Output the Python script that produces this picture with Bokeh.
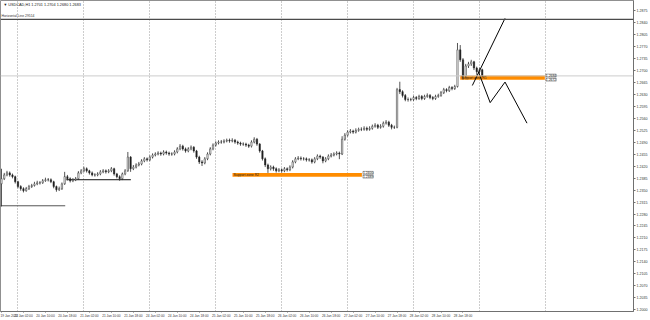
from bokeh.plotting import figure
from bokeh.models import Range1d, FixedTicker, LinearAxis, Label, Span, Grid, NumeralTickFormatter
from bokeh.embed import file_html
from bokeh.resources import INLINE

symbol = "USDCAD,H1"

opens = [
    1.2368, 1.2383, 1.2394, 1.2400, 1.2394, 1.2389, 1.2374, 1.2360, 1.2354, 1.2348,
    1.2354, 1.2360, 1.2363, 1.2368, 1.2371, 1.2371, 1.2377, 1.2380, 1.2380, 1.2374,
    1.2360, 1.2351, 1.2354, 1.2368, 1.2389, 1.2383, 1.2377, 1.2380, 1.2383, 1.2400,
    1.2406, 1.2412, 1.2406, 1.2400, 1.2394, 1.2394, 1.2397, 1.2403, 1.2406, 1.2403,
    1.2406, 1.2412, 1.2397, 1.2389, 1.2383, 1.2397, 1.2406, 1.2446, 1.2412, 1.2417,
    1.2423, 1.2426, 1.2435, 1.2441, 1.2438, 1.2446, 1.2452, 1.2455, 1.2458, 1.2455,
    1.2461, 1.2458, 1.2455, 1.2455, 1.2461, 1.2470, 1.2478, 1.2470, 1.2464, 1.2470,
    1.2475, 1.2464, 1.2446, 1.2432, 1.2429, 1.2441, 1.2455, 1.2470, 1.2481, 1.2487,
    1.2490, 1.2490, 1.2493, 1.2495, 1.2493, 1.2495, 1.2490, 1.2487, 1.2484, 1.2484,
    1.2481, 1.2478, 1.2490, 1.2498, 1.2484, 1.2464, 1.2441, 1.2423, 1.2412, 1.2417,
    1.2412, 1.2406, 1.2409, 1.2406, 1.2412, 1.2409, 1.2417, 1.2432, 1.2441, 1.2443,
    1.2441, 1.2441, 1.2438, 1.2438, 1.2432, 1.2441, 1.2449, 1.2446, 1.2435, 1.2441,
    1.2449, 1.2452, 1.2455, 1.2458, 1.2455, 1.2498, 1.2510, 1.2519, 1.2522, 1.2519,
    1.2524, 1.2527, 1.2527, 1.2530, 1.2527, 1.2530, 1.2536, 1.2539, 1.2533, 1.2536,
    1.2545, 1.2548, 1.2539, 1.2533, 1.2533, 1.2643, 1.2637, 1.2626, 1.2614, 1.2614,
    1.2614, 1.2620, 1.2617, 1.2623, 1.2617, 1.2623, 1.2626, 1.2620, 1.2617, 1.2623,
    1.2626, 1.2634, 1.2643, 1.2640, 1.2649, 1.2646, 1.2652, 1.2759, 1.2730, 1.2683,
    1.2712, 1.2718, 1.2724, 1.2706, 1.2695, 1.2701,
]
highs = [
    1.2412, 1.2400, 1.2406, 1.2404, 1.2398, 1.2392, 1.2377, 1.2364, 1.2358, 1.2359,
    1.2365, 1.2368, 1.2374, 1.2377, 1.2376, 1.2382, 1.2386, 1.2385, 1.2384, 1.2377,
    1.2363, 1.2360, 1.2372, 1.2403, 1.2394, 1.2387, 1.2385, 1.2388, 1.2405, 1.2411,
    1.2418, 1.2416, 1.2409, 1.2404, 1.2399, 1.2402, 1.2408, 1.2411, 1.2410, 1.2411,
    1.2417, 1.2415, 1.2400, 1.2393, 1.2401, 1.2411, 1.2461, 1.2449, 1.2423, 1.2428,
    1.2432, 1.2440, 1.2446, 1.2445, 1.2451, 1.2457, 1.2460, 1.2463, 1.2462, 1.2466,
    1.2465, 1.2462, 1.2460, 1.2466, 1.2475, 1.2484, 1.2482, 1.2474, 1.2475, 1.2480,
    1.2478, 1.2467, 1.2450, 1.2437, 1.2446, 1.2460, 1.2475, 1.2486, 1.2492, 1.2495,
    1.2496, 1.2498, 1.2500, 1.2500, 1.2501, 1.2499, 1.2494, 1.2491, 1.2489, 1.2488,
    1.2485, 1.2495, 1.2504, 1.2502, 1.2487, 1.2467, 1.2445, 1.2427, 1.2422, 1.2421,
    1.2416, 1.2414, 1.2413, 1.2417, 1.2416, 1.2422, 1.2437, 1.2446, 1.2449, 1.2448,
    1.2446, 1.2445, 1.2443, 1.2442, 1.2446, 1.2454, 1.2453, 1.2449, 1.2446, 1.2454,
    1.2458, 1.2460, 1.2463, 1.2462, 1.2507, 1.2516, 1.2524, 1.2528, 1.2526, 1.2530,
    1.2532, 1.2533, 1.2536, 1.2535, 1.2536, 1.2541, 1.2545, 1.2543, 1.2542, 1.2550,
    1.2554, 1.2552, 1.2543, 1.2538, 1.2648, 1.2666, 1.2641, 1.2630, 1.2620, 1.2619,
    1.2625, 1.2624, 1.2628, 1.2627, 1.2628, 1.2632, 1.2630, 1.2624, 1.2628, 1.2631,
    1.2639, 1.2648, 1.2647, 1.2654, 1.2653, 1.2657, 1.2779, 1.2773, 1.2735, 1.2718,
    1.2724, 1.2730, 1.2727, 1.2710, 1.2707, 1.2704,
]
lows = [
    1.2302, 1.2379, 1.2390, 1.2389, 1.2384, 1.2369, 1.2355, 1.2348, 1.2343, 1.2345,
    1.2350, 1.2356, 1.2360, 1.2364, 1.2366, 1.2368, 1.2374, 1.2375, 1.2370, 1.2355,
    1.2345, 1.2347, 1.2350, 1.2365, 1.2378, 1.2372, 1.2373, 1.2376, 1.2380, 1.2396,
    1.2402, 1.2401, 1.2395, 1.2390, 1.2389, 1.2390, 1.2393, 1.2399, 1.2398, 1.2399,
    1.2402, 1.2392, 1.2384, 1.2377, 1.2379, 1.2393, 1.2403, 1.2403, 1.2408, 1.2413,
    1.2419, 1.2422, 1.2431, 1.2433, 1.2434, 1.2442, 1.2448, 1.2451, 1.2450, 1.2451,
    1.2453, 1.2450, 1.2450, 1.2451, 1.2457, 1.2466, 1.2465, 1.2459, 1.2460, 1.2466,
    1.2459, 1.2441, 1.2426, 1.2420, 1.2425, 1.2437, 1.2451, 1.2466, 1.2477, 1.2483,
    1.2485, 1.2486, 1.2489, 1.2488, 1.2489, 1.2485, 1.2482, 1.2479, 1.2479, 1.2476,
    1.2473, 1.2474, 1.2486, 1.2479, 1.2459, 1.2436, 1.2417, 1.2400, 1.2407, 1.2406,
    1.2401, 1.2402, 1.2401, 1.2402, 1.2404, 1.2405, 1.2413, 1.2428, 1.2437, 1.2436,
    1.2436, 1.2433, 1.2433, 1.2427, 1.2428, 1.2437, 1.2441, 1.2428, 1.2431, 1.2437,
    1.2445, 1.2448, 1.2451, 1.2440, 1.2452, 1.2494, 1.2506, 1.2515, 1.2514, 1.2515,
    1.2520, 1.2522, 1.2523, 1.2522, 1.2523, 1.2526, 1.2532, 1.2528, 1.2529, 1.2532,
    1.2541, 1.2534, 1.2527, 1.2528, 1.2530, 1.2630, 1.2620, 1.2609, 1.2608, 1.2609,
    1.2610, 1.2612, 1.2613, 1.2612, 1.2613, 1.2619, 1.2615, 1.2612, 1.2613, 1.2619,
    1.2622, 1.2630, 1.2635, 1.2636, 1.2641, 1.2642, 1.2649, 1.2724, 1.2672, 1.2678,
    1.2706, 1.2712, 1.2700, 1.2686, 1.2690, 1.2680,
]
closes = [
    1.2383, 1.2394, 1.2400, 1.2394, 1.2389, 1.2374, 1.2360, 1.2354, 1.2348, 1.2354,
    1.2360, 1.2363, 1.2368, 1.2371, 1.2371, 1.2377, 1.2380, 1.2380, 1.2374, 1.2360,
    1.2351, 1.2354, 1.2368, 1.2389, 1.2383, 1.2377, 1.2380, 1.2383, 1.2400, 1.2406,
    1.2412, 1.2406, 1.2400, 1.2394, 1.2394, 1.2397, 1.2403, 1.2406, 1.2403, 1.2406,
    1.2412, 1.2397, 1.2389, 1.2383, 1.2397, 1.2406, 1.2446, 1.2412, 1.2417, 1.2423,
    1.2426, 1.2435, 1.2441, 1.2438, 1.2446, 1.2452, 1.2455, 1.2458, 1.2455, 1.2461,
    1.2458, 1.2455, 1.2455, 1.2461, 1.2470, 1.2478, 1.2470, 1.2464, 1.2470, 1.2475,
    1.2464, 1.2446, 1.2432, 1.2429, 1.2441, 1.2455, 1.2470, 1.2481, 1.2487, 1.2490,
    1.2490, 1.2493, 1.2495, 1.2493, 1.2495, 1.2490, 1.2487, 1.2484, 1.2484, 1.2481,
    1.2478, 1.2490, 1.2498, 1.2484, 1.2464, 1.2441, 1.2423, 1.2412, 1.2417, 1.2412,
    1.2406, 1.2409, 1.2406, 1.2412, 1.2409, 1.2417, 1.2432, 1.2441, 1.2443, 1.2441,
    1.2441, 1.2438, 1.2438, 1.2432, 1.2441, 1.2449, 1.2446, 1.2435, 1.2441, 1.2449,
    1.2452, 1.2455, 1.2458, 1.2455, 1.2498, 1.2510, 1.2519, 1.2522, 1.2519, 1.2524,
    1.2527, 1.2527, 1.2530, 1.2527, 1.2530, 1.2536, 1.2539, 1.2533, 1.2536, 1.2545,
    1.2548, 1.2539, 1.2533, 1.2533, 1.2643, 1.2637, 1.2626, 1.2614, 1.2614, 1.2614,
    1.2620, 1.2617, 1.2623, 1.2617, 1.2623, 1.2626, 1.2620, 1.2617, 1.2623, 1.2626,
    1.2634, 1.2643, 1.2640, 1.2649, 1.2646, 1.2652, 1.2759, 1.2730, 1.2683, 1.2712,
    1.2718, 1.2724, 1.2706, 1.2695, 1.2701, 1.2683,
]

price_ticks = [1.2875, 1.2840, 1.2805, 1.2770, 1.2735, 1.2700, 1.2665, 1.2630, 1.2595,
               1.2560, 1.2525, 1.2490, 1.2455, 1.2420, 1.2385, 1.2350, 1.2315, 1.2280,
               1.2245, 1.2210, 1.2175, 1.2140, 1.2105, 1.2070, 1.2035, 1.2000]
time_tick_bars = [0, 8, 16, 24, 32, 40, 48, 56, 64, 72, 80, 88, 96, 104, 112, 120,
                  128, 136, 144, 152, 160, 168]
time_tick_labels = ["19 Jan 2022", "20 Jan 02:00", "20 Jan 10:00", "20 Jan 18:00",
                    "21 Jan 02:00", "21 Jan 10:00", "21 Jan 18:00", "24 Jan 02:00",
                    "24 Jan 10:00", "24 Jan 18:00", "25 Jan 02:00", "25 Jan 10:00",
                    "25 Jan 18:00", "26 Jan 02:00", "26 Jan 10:00", "26 Jan 18:00",
                    "27 Jan 02:00", "27 Jan 10:00", "27 Jan 18:00", "28 Jan 02:00",
                    "28 Jan 10:00", "28 Jan 18:00"]
separator_bars = [6, 30, 54, 78, 102, 126, 150, 174, 198]

hline_price = 1.2848
hline_name = "Horizontal Line 29514"
level_starts = [-0.4, 23.6]
level_ends = [23.2, 47.1]
level_prices = [1.2304, 1.2380]
level_colors = ["#555555", "#111111"]

zone_starts = [84.1, 167.0]
zone_ends = [131.2, 197.8]
zone_tops = [1.2400, 1.2684]
zone_bottoms = [1.2389, 1.2672]
zone_names = ["Support zone R2", "Support zone R1"]

trend_x = [171.4, 183.3]
trend_y = [1.2655, 1.2851]
zig_x = [173.6, 177.9, 183.3, 191.3]
zig_y = [1.2695, 1.2605, 1.2665, 1.2545]

X0, X1 = -0.36, 230.07
Y0, Y1 = 1.19955, 1.2903
FONT = "Liberation Sans"

p = figure(width=650, height=320, x_range=Range1d(X0, X1), y_range=Range1d(Y0, Y1),
           toolbar_location=None, output_backend="svg",
           x_axis_location=None, y_axis_location=None,
           min_border_left=0, min_border_top=0, min_border_right=14, min_border_bottom=6)
p.outline_line_color = "#909090"
p.background_fill_color = "white"
p.border_fill_color = "white"
p.grid.grid_line_color = None

vgrid = Grid(dimension=0, ticker=FixedTicker(ticks=separator_bars),
             grid_line_color="#9a9a9a", grid_line_dash="1 2", grid_line_width=1)
p.add_layout(vgrid)

yaxis = LinearAxis(ticker=FixedTicker(ticks=price_ticks),
                   formatter=NumeralTickFormatter(format="0.0000"))
yaxis.axis_line_color = "#707070"
yaxis.major_tick_line_color = "#707070"
yaxis.major_tick_out = 2
yaxis.major_tick_in = 0
yaxis.minor_tick_out = 0
yaxis.minor_tick_in = 0
yaxis.major_label_standoff = 1
yaxis.major_label_text_font_size = "3.6px"
yaxis.major_label_text_font = FONT
yaxis.major_label_text_color = "#333333"
p.add_layout(yaxis, "right")

xaxis = LinearAxis(ticker=FixedTicker(ticks=time_tick_bars),
                   major_label_overrides=dict(zip(time_tick_bars, time_tick_labels)))
xaxis.axis_line_color = "#707070"
xaxis.major_tick_line_color = "#707070"
xaxis.major_tick_out = 1
xaxis.major_tick_in = 0
xaxis.minor_tick_out = 0
xaxis.minor_tick_in = 0
xaxis.major_label_standoff = 1
xaxis.major_label_text_font_size = "3.2px"
xaxis.major_label_text_font = FONT
xaxis.major_label_text_align = "left"
xaxis.major_label_text_color = "#333333"
p.add_layout(xaxis, "below")

# levels / lines
bid_price = closes[-1]
p.add_layout(Span(location=bid_price, dimension="width", line_color="#cccccc", line_width=1))
p.add_layout(Span(location=hline_price, dimension="width", line_color="#4a4a4a", line_width=1.2))

p.segment(x0=level_starts, y0=level_prices, x1=level_ends, y1=level_prices,
          line_color=level_colors, line_width=1)

p.quad(left=zone_starts, right=zone_ends, top=zone_tops, bottom=zone_bottoms,
       fill_color="#FF8C00", line_color=None)

# candles
bars = list(range(len(closes)))
body_top = [max(o, c) for o, c in zip(opens, closes)]
body_bot = [min(o, c) for o, c in zip(opens, closes)]
body_fill = ["white" if c >= o else "#1a1a1a" for o, c in zip(opens, closes)]
p.segment(x0=bars, y0=highs, x1=bars, y1=lows, line_color="#2a2a2a", line_width=0.8)
p.vbar(x=bars, width=0.5, top=body_top, bottom=body_bot, fill_color=body_fill,
       line_color="#2a2a2a", line_width=0.5)

# trend lines
p.line(trend_x, trend_y, line_color="black", line_width=1)
p.line(zig_x, zig_y, line_color="black", line_width=1)

# zone names and price boxes
for xs, xe, t, b, name in zip(zone_starts, zone_ends, zone_tops, zone_bottoms, zone_names):
    p.add_layout(Label(x=xs, y=(t + b) / 2, text=name, text_font_size="3.4px",
                       text_font=FONT, text_color="#222222", text_baseline="middle", x_offset=1))
    for pr in (t, b):
        p.add_layout(Label(x=xe, y=pr, text=f"{pr:.4f}", text_font_size="3.4px",
                           text_font=FONT, text_color="#222222", text_baseline="middle",
                           x_offset=1, background_fill_color="white",
                           border_line_color="#808080", border_line_width=0.6))

# highlighted axis labels
for pr in (hline_price, bid_price):
    p.add_layout(Label(x=X1, y=pr, text=f"{pr:.4f}", text_font_size="3.6px", text_font=FONT,
                       text_color="white", text_baseline="middle", x_offset=1,
                       background_fill_color="black", border_line_color="black"))

# header texts
p.add_layout(Label(x=X0, y=Y1, text="\u25bc " + symbol + "  " +
                   f"{opens[-1]:.4f} {highs[-1]:.4f} {lows[-1]:.4f} {closes[-1]:.4f}",
                   text_font_size="3.8px", text_font=FONT, text_color="#222222",
                   text_baseline="top", x_offset=3, y_offset=-2))
p.add_layout(Label(x=X0, y=hline_price, text=hline_name, text_font_size="3.4px",
                   text_font=FONT, text_color="#333333", text_baseline="bottom",
                   x_offset=1, y_offset=1))

open("out.html", "w").write(file_html(p, INLINE))
